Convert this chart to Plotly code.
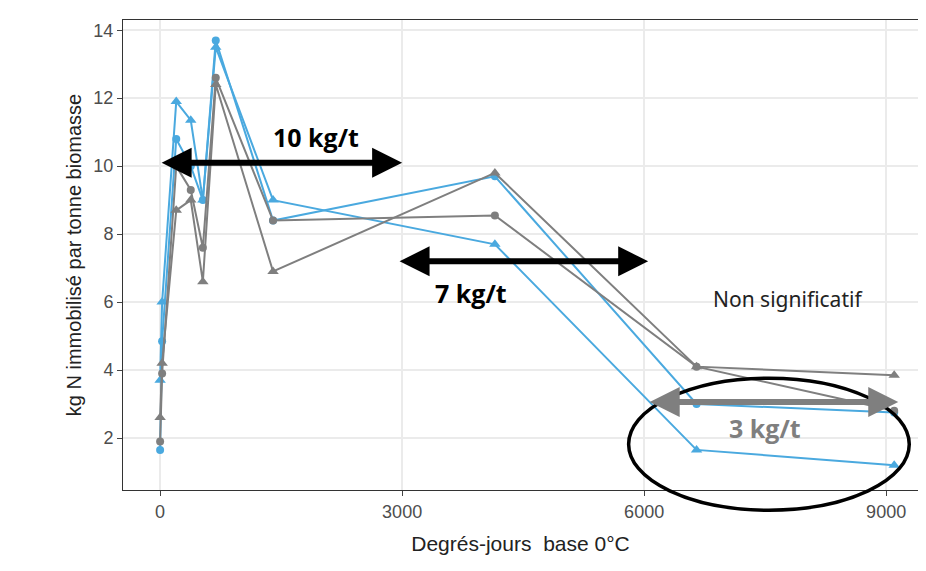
import plotly.graph_objects as go

# Degrés-jours and kg N per tonne biomass
x_pts = [0, 25, 200, 380, 530, 690, 1400, 4150, 6650, 9100]
blue_circle = [1.65, 4.85, 10.8, 10.0, 9.0, 13.7, 8.4, 9.7, 3.0, 2.75]
blue_tri = [3.7, 6.0, 11.9, 11.35, 9.0, 13.5, 9.0, 7.7, 1.65, 1.2]
grey_circle = [1.9, 3.9, 10.0, 9.3, 7.6, 12.6, 8.4, 8.55, 4.1, 2.8]
grey_tri = [2.6, 4.2, 8.7, 9.0, 6.6, 12.4, 6.9, 9.8, 4.1, 3.85]

x_ticks = [0, 3000, 6000, 9000]
y_ticks = [2, 4, 6, 8, 10, 12, 14]

BLUE = '#4aa9df'
GREY = '#7f7f7f'

fig = go.Figure()
for y, col, sym, sz in [(blue_circle, BLUE, 'circle', 8), (blue_tri, BLUE, 'triangle-up', 10),
                        (grey_circle, GREY, 'circle', 8), (grey_tri, GREY, 'triangle-up', 10)]:
    fig.add_trace(go.Scatter(x=x_pts, y=y, mode='lines+markers',
                             line=dict(color=col, width=2),
                             marker=dict(color=col, symbol=sym, size=sz)))

# double arrows
for x0, x1, y, col in [(0, 3000, 10.1, 'black'), (2950, 6050, 7.2, 'black'),
                       (6050, 9150, 3.06, GREY)]:
    fig.add_annotation(x=x1, y=y, ax=x0, ay=y, xref='x', yref='y', axref='x', ayref='y',
                       text='', showarrow=True, arrowhead=2, arrowside='end+start',
                       arrowsize=1.0, arrowwidth=6, arrowcolor=col)

fig.add_annotation(x=1933, y=10.85, text='<b>10 kg/t</b>', showarrow=False,
                   font=dict(size=25, color='black', family='Open Sans'))
fig.add_annotation(x=3854, y=6.26, text='<b>7 kg/t</b>', showarrow=False,
                   font=dict(size=25, color='black', family='Open Sans'))
fig.add_annotation(x=7500, y=2.3, text='<b>3 kg/t</b>', showarrow=False,
                   font=dict(size=25, color=GREY, family='Open Sans'))
fig.add_annotation(x=7782, y=6.1, text='Non significatif', showarrow=False,
                   font=dict(size=21, color='#222', family='Noto Sans'))

fig.add_shape(type='circle', xref='paper', yref='paper', x0=0.636, x1=0.989,
              y0=-0.043, y1=0.238, line=dict(color='black', width=3.5))

fig.update_layout(
    width=926, height=571, showlegend=False,
    margin=dict(l=115, r=16, t=12, b=89),
    plot_bgcolor='white', paper_bgcolor='white',
    font=dict(family='Liberation Sans', color='#222'),
)
fig.update_xaxes(range=[-460, 9395], tickvals=x_ticks, ticks='outside', ticklen=5,
                 tickfont=dict(size=18, color='#4d4d4d'), automargin=False,
                 showgrid=True, gridcolor='#ebebeb', gridwidth=1.5,
                 showline=True, linecolor='#333', mirror=True, zeroline=False,
                 title=dict(text='Degrés-jours  base 0°C', font=dict(size=21)))
fig.update_yaxes(range=[0.47, 14.3], tickvals=y_ticks, ticks='outside', ticklen=5,
                 tickfont=dict(size=18, color='#4d4d4d'), automargin=False,
                 showgrid=True, gridcolor='#ebebeb', gridwidth=1.5,
                 showline=True, linecolor='#333', mirror=True, zeroline=False,
                 title=dict(text='kg N immobilisé par tonne biomasse', font=dict(size=20),
                            standoff=6))

fig.write_html('out.html')
